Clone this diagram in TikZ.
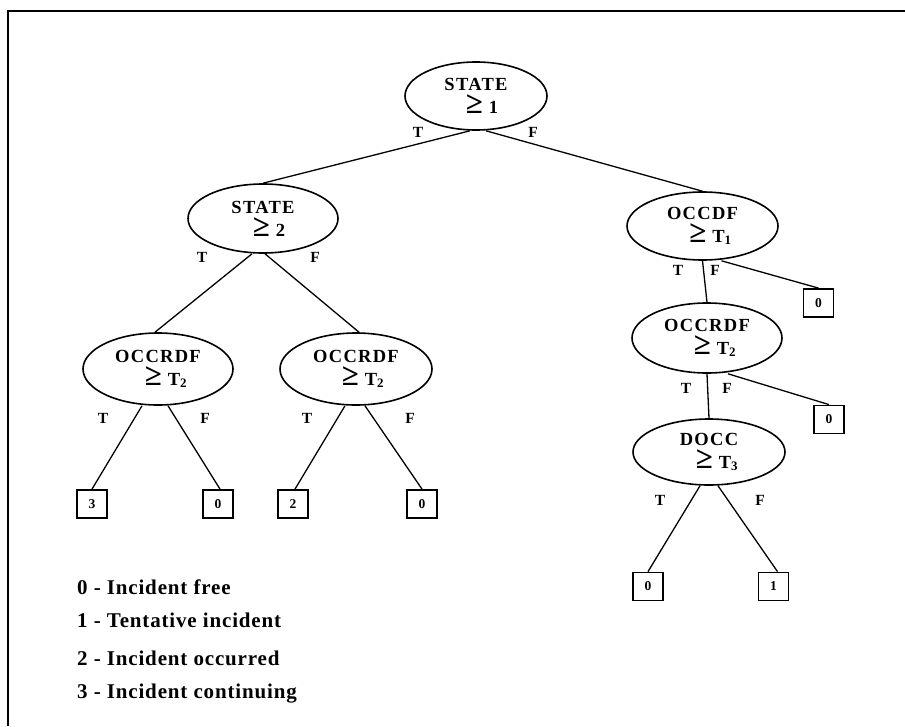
\documentclass[tikz,border=0pt]{standalone}
\usepackage{fontspec}
\setmainfont{Liberation Serif}
\newfontfamily\treefont{Liberation Serif}[LetterSpace=7]
\newfontfamily\keyfont{Liberation Serif}[LetterSpace=4]
\usetikzlibrary{shapes.geometric}

% large "greater or equal" sign used inside the test nodes
\newcommand{\gesym}{{\fontsize{31}{23}\selectfont ≥}}
% second line of a test node: shifted threshold
\newcommand{\thr}[2][16pt]{\hspace*{#1}\gesym\ #2}

\tikzset{
  test/.style={ellipse, draw, line width=1.6pt, minimum width=150pt,
    minimum height=68pt, inner sep=0pt, align=center,
    font=\treefont\bfseries\fontsize{18.5}{23}\selectfont},
  leaf/.style={draw, line width=1.8pt, minimum width=30pt, minimum height=28pt,
    inner sep=0pt, font=\treefont\bfseries\fontsize{13.5}{13.5}\selectfont},
  branch/.style={line width=1.3pt},
  tf/.style={inner sep=0pt, font=\treefont\bfseries\fontsize{15.5}{15.5}\selectfont},
  keyline/.style={anchor=base west, inner sep=0pt,
    font=\keyfont\bfseries\fontsize{21}{21}\selectfont},
  frame/.style={line width=2pt}
}

\begin{document}
\begin{tikzpicture}[x=1pt, y=-1pt]
\useasboundingbox (0,0) rectangle (905,726);

% outer frame (top and left edges)
\draw[frame] (905,11) -- (8,11) -- (8,726);

% decision nodes
\node[test, minimum width=142pt] (root) at (476,96) {STATE\\\thr[12pt]{1}};
\node[test, minimum height=69pt] (s2) at (263,218.5) {STATE\\\thr[12pt]{2}};
\node[test, minimum width=151pt] (occdf) at (702.5,226) {OCCDF\\\thr{T\textsubscript{1}}};
\node[test, minimum height=70pt] (occrdfR) at (707,338) {OCCRDF\\\thr{T\textsubscript{2}}};
\node[test, minimum width=152pt, minimum height=66pt] (docc) at (709,452) {DOCC\\\thr{T\textsubscript{3}}};
\node[test, minimum height=72pt] (occL) at (158,369) {OCCRDF\\\thr{T\textsubscript{2}}};
\node[test, minimum width=152pt, minimum height=72pt] (occM) at (356,369) {OCCRDF\\\thr[14pt]{T\textsubscript{2}}};

% leaves
\node[leaf] (l3) at (92,504) {3};
\node[leaf] (l0a) at (218,504) {0};
\node[leaf] (l2) at (293,504) {2};
\node[leaf] (l0b) at (422,504) {0};
\node[leaf] (r0a) at (818.5,303) {0};
\node[leaf] (r0b) at (829,419.5) {0};
\node[leaf] (r0c) at (648,586.5) {0};
\node[leaf] (r1) at (773.5,586.5) {1};

% branches
\draw[branch] ([xshift=-6pt]root.south) -- (s2.north);
\draw[branch] ([xshift=10pt]root.south) -- (occdf.north);
\draw[branch] ([xshift=-11pt]s2.south) -- ([xshift=-3pt]occL.north);
\draw[branch] ([xshift=2pt]s2.south) -- ([xshift=3pt]occM.north);
\draw[branch] ([xshift=-16pt]occL.south) -- (l3.north);
\draw[branch] ([xshift=10pt]occL.south) -- ([xshift=2pt]l0a.north);
\draw[branch] ([xshift=-11pt]occM.south) -- ([xshift=2pt]l2.north);
\draw[branch] ([xshift=9pt]occM.south) -- (l0b.north);
\draw[branch] (occdf.south) -- (occrdfR.north);
\draw[branch] ([xshift=19pt]occdf.south) -- (r0a.north);
\draw[branch] (occrdfR.south) -- (docc.north);
\draw[branch] ([xshift=21pt]occrdfR.south) -- (r0b.north);
\draw[branch] ([xshift=-9pt]docc.south) -- (r0c.north);
\draw[branch] ([xshift=9pt]docc.south) -- ([xshift=4pt]r1.north);

% branch labels
\node[tf] (rootT) at (418,132) {T};
\node[tf] (rootF) at (533,132) {F};
\node[tf] (s2T) at (202,257) {T};
\node[tf] (s2F) at (315,257) {F};
\node[tf] (occdfT) at (678,270) {T};
\node[tf] (occdfF) at (715,270) {F};
\node[tf] (occrdfRT) at (686,388) {T};
\node[tf] (occrdfRF) at (727,388) {F};
\node[tf] (doccT) at (660,500) {T};
\node[tf] (doccF) at (760,500) {F};
\node[tf] (occLT) at (103,418) {T};
\node[tf] (occLF) at (205,418) {F};
\node[tf] (occMT) at (307,418) {T};
\node[tf] (occMF) at (410,418) {F};

% key to the leaf values
\node[keyline] (k0) at (77,594) {0 - Incident free};
\node[keyline] (k1) at (77,627) {1 - Tentative incident};
\node[keyline] (k2) at (77,665) {2 - Incident occurred};
\node[keyline] (k3) at (77,698) {3 - Incident continuing};
\end{tikzpicture}
\end{document}
